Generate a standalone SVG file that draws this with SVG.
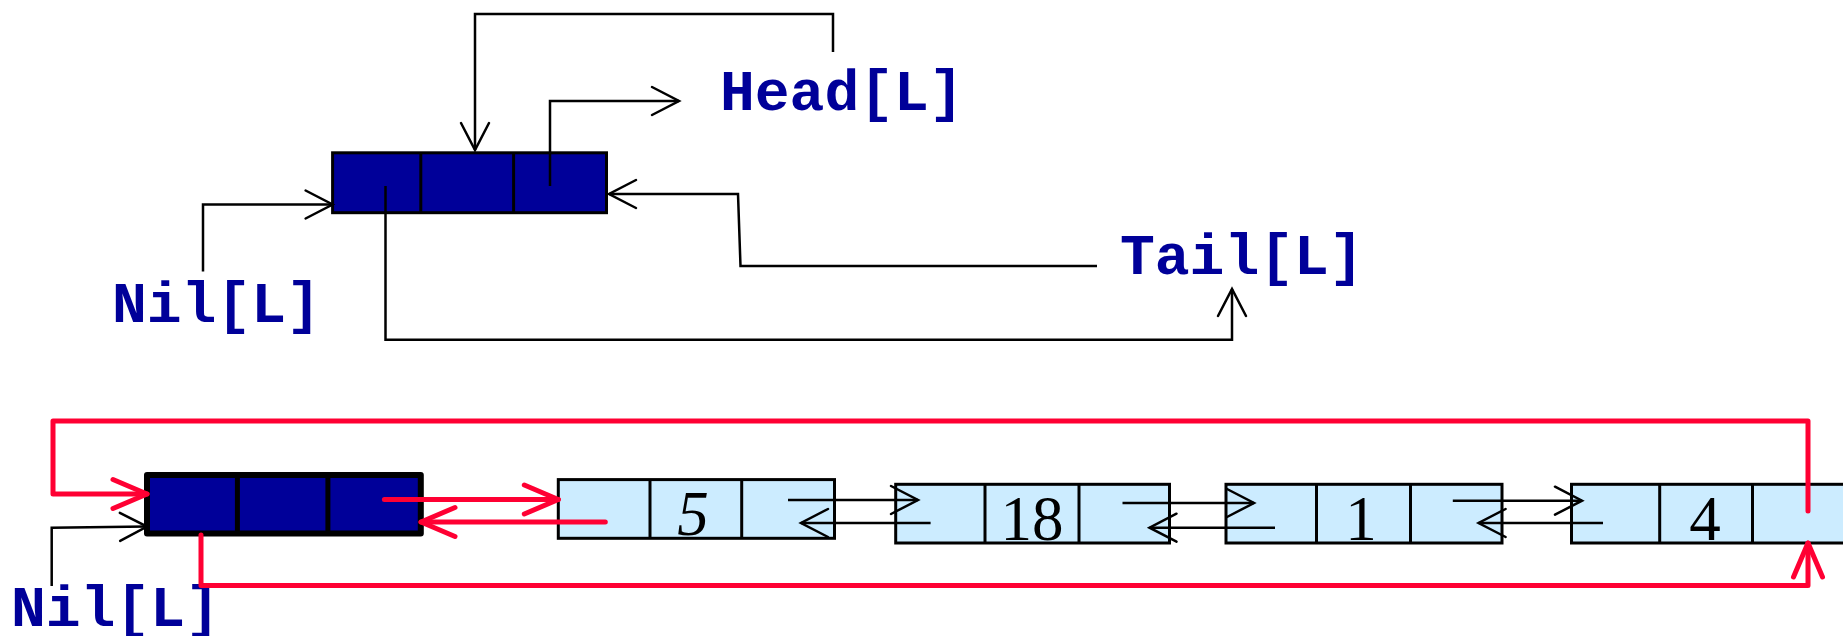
<svg xmlns="http://www.w3.org/2000/svg" width="1843" height="636" viewBox="0 0 1843 636">
<style>
.lbl{font-family:"Liberation Mono","Courier New",monospace;font-weight:bold;font-size:58px;fill:#000099}
.num{font-family:"Liberation Serif","Times New Roman",serif;font-size:63px;fill:#000}
.dk{fill:#000099;stroke:#000;stroke-width:3}
.dkb{fill:#000099;stroke:#000;stroke-width:6;stroke-linejoin:round}
.lt{fill:#CCECFF;stroke:#000;stroke-width:3}
.dv{stroke:#000;stroke-width:3}
.dvb{stroke:#000;stroke-width:5}
.c{fill:none;stroke:#000;stroke-width:2.5;marker-end:url(#ab)}
.r{fill:none;stroke:#FF0033;stroke-width:5;stroke-linecap:round;stroke-linejoin:round;marker-end:url(#ar)}
</style>
<defs>
<marker id="ab" markerUnits="userSpaceOnUse" viewBox="-32 -18 36 36" refX="0" refY="0" markerWidth="36" markerHeight="36" orient="auto" overflow="visible">
<path d="M-27,-14 L0,0 L-27,14" fill="none" stroke="#000" stroke-width="2.5" stroke-linecap="round"/>
</marker>
<marker id="ar" markerUnits="userSpaceOnUse" viewBox="-40 -20 44 40" refX="0" refY="0" markerWidth="44" markerHeight="40" orient="auto" overflow="visible">
<path d="M-34,-14.5 L0,0 L-34,14.5" fill="none" stroke="#FF0033" stroke-width="5" stroke-linecap="round" stroke-linejoin="round"/>
</marker>
</defs>

<g id="top-node">
<rect class="dk" x="332.6" y="152.8" width="273.9" height="59.9"/>
<line class="dv" x1="420.8" y1="152.8" x2="420.8" y2="212.7"/>
<line class="dv" x1="513.6" y1="152.8" x2="513.6" y2="212.7"/>
</g>
<g id="head-label"><text class="lbl" x="720" y="110">Head[L]</text></g>
<g id="tail-label"><text class="lbl" x="1120" y="274">Tail[L]</text></g>
<g id="nil-top-label"><text class="lbl" x="112" y="322">Nil[L]</text></g>

<g id="bottom-sentinel">
<rect class="dkb" x="147" y="474.9" width="273.8" height="58.7"/>
<line class="dvb" x1="237.4" y1="474.9" x2="237.4" y2="533.6"/>
<line class="dvb" x1="327.9" y1="474.9" x2="327.9" y2="533.6"/>
</g>
<g id="node-5">
<rect class="lt" x="558.3" y="479.6" width="276.2" height="58.7"/>
<line class="dv" x1="650" y1="479.6" x2="650" y2="538.3"/>
<line class="dv" x1="741.7" y1="479.6" x2="741.7" y2="538.3"/>
<text class="num" x="693" y="535" text-anchor="middle" font-style="italic">5</text>
</g>
<g id="node-18">
<rect class="lt" x="895.7" y="484.3" width="273.8" height="58.7"/>
<line class="dv" x1="985" y1="484.3" x2="985" y2="543"/>
<line class="dv" x1="1079" y1="484.3" x2="1079" y2="543"/>
<text class="num" x="1032" y="540" text-anchor="middle">18</text>
</g>
<g id="node-1">
<rect class="lt" x="1226" y="484.3" width="276" height="58.7"/>
<line class="dv" x1="1316.5" y1="484.3" x2="1316.5" y2="543"/>
<line class="dv" x1="1410.5" y1="484.3" x2="1410.5" y2="543"/>
<text class="num" x="1361" y="540" text-anchor="middle">1</text>
</g>
<g id="node-4">
<rect class="lt" x="1571.5" y="484.3" width="276" height="58.7"/>
<line class="dv" x1="1659.7" y1="484.3" x2="1659.7" y2="543"/>
<line class="dv" x1="1752.5" y1="484.3" x2="1752.5" y2="543"/>
<text class="num" x="1705" y="540" text-anchor="middle">4</text>
</g>
<g id="nil-bottom-label"><text class="lbl" x="11" y="626">Nil[L]</text></g>

<g id="connectors">
<path class="c" d="M833,52 V14 H475 V150"/>
<path class="c" d="M550,186 V101 H679"/>
<path class="c" d="M1097,266 H740.5 L738,194 H609"/>
<path class="c" d="M385.5,186 V339.7 H1232 V289"/>
<path class="c" d="M203,271.5 V204.5 H332.6"/>
<path class="c" d="M51.7,586 V527.7 L147,526.6"/>
<path class="c" d="M788,500 H918"/>
<path class="c" d="M930.6,523 H801"/>
<path class="c" d="M1122.5,503 H1254"/>
<path class="c" d="M1275,527.7 H1149.5"/>
<path class="c" d="M1452.8,500.7 H1582"/>
<path class="c" d="M1603,523 H1478.6"/>
<path class="r" d="M1808,511 V421 H53 V494 H147"/>
<path class="r" d="M384.4,499.5 H558.3"/>
<path class="r" d="M605.3,522 H421"/>
<path class="r" d="M201,535 V585.5 H1808 V543"/>
</g>
</svg>
